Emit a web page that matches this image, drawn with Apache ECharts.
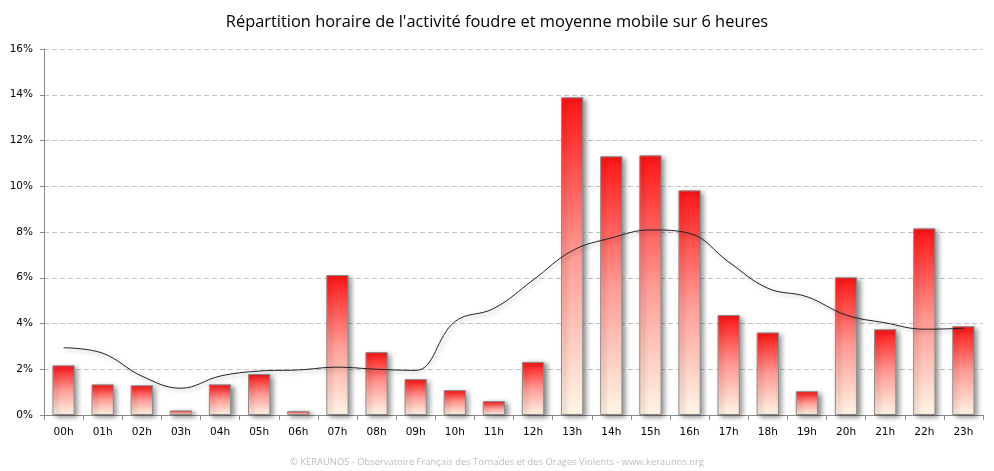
<!DOCTYPE html>
<html>
<head>
<meta charset="utf-8">
<script src="https://cdn.jsdelivr.net/npm/echarts@6/dist/echarts.min.js"></script>
<style>
html,body{margin:0;padding:0;background:#fff;}
#chart{width:994px;height:471px;}
</style>
</head>
<body>
<div id="chart"></div>
<script>
var categories = ['00h','01h','02h','03h','04h','05h','06h','07h','08h','09h','10h','11h','12h','13h','14h','15h','16h','17h','18h','19h','20h','21h','22h','23h'];
var activityValues = [2.17, 1.34, 1.30, 0.20, 1.34, 1.79, 0.17, 6.12, 2.75, 1.57, 1.09, 0.61, 2.32, 13.89, 11.31, 11.35, 9.82, 4.37, 3.61, 1.04, 6.02, 3.75, 8.16, 3.88];
var movingAverage = [2.94, 2.70, 1.70, 1.17, 1.70, 1.92, 1.97, 2.09, 2.00, 1.95, 4.08, 4.66, 5.90, 7.18, 7.74, 8.09, 7.94, 6.69, 5.54, 5.17, 4.37, 4.03, 3.75, 3.79];
var yTicks = [0, 2, 4, 6, 8, 10, 12, 14, 16];
var titleText = "Répartition horaire de l'activité foudre et moyenne mobile sur 6 heures";
var footerText = "© KERAUNOS - Observatoire Français des Tornades et des Orages Violents - www.keraunos.org";

var chart = echarts.init(document.getElementById('chart'), null, {renderer: 'canvas'});
chart.setOption({
  animation: false,
  backgroundColor: '#ffffff',
  title: [{
    text: titleText,
    left: 'center',
    top: 9,
    textStyle: {fontFamily: 'Open Sans', fontSize: 16.4, fontWeight: 'normal', color: '#000'}
  }, {
    text: footerText,
    left: 'center',
    top: 453,
    textStyle: {fontFamily: 'Open Sans', fontSize: 9.4, fontWeight: 'normal', color: '#bdbdbd'}
  }],
  grid: {left: 44, right: 11, top: 49, bottom: 56, containLabel: false},
  xAxis: {
    type: 'category',
    data: categories,
    boundaryGap: true,
    axisLine: {show: true, lineStyle: {color: '#8a8a8a', width: 1}},
    axisTick: {show: true, length: 5, lineStyle: {color: '#8a8a8a'}},
    axisLabel: {fontFamily: 'DejaVu Sans', fontSize: 10.5, color: '#000', margin: 12}
  },
  yAxis: {
    type: 'value',
    min: yTicks[0],
    max: yTicks[yTicks.length - 1],
    interval: 2,
    axisLine: {show: true, lineStyle: {color: '#8a8a8a', width: 1}},
    axisTick: {show: true, length: 4, lineStyle: {color: '#8a8a8a'}},
    axisLabel: {fontFamily: 'DejaVu Sans', fontSize: 10.5, color: '#000', margin: 11, formatter: '{value}%'},
    splitLine: {show: true, lineStyle: {color: '#c4c4c4', type: [5, 3], width: 1}}
  },
  series: [{
    type: 'bar',
    data: activityValues,
    barWidth: '57%',
    itemStyle: {
      color: new echarts.graphic.LinearGradient(0, 0, 0, 1, [
        {offset: 0, color: '#ff1414'},
        {offset: 0.5, color: '#ff9a94'},
        {offset: 1, color: '#fff6e6'}
      ]),
      borderColor: '#8c8c8c',
      borderWidth: 1,
      shadowBlur: 5,
      shadowColor: 'rgba(0,0,0,0.45)',
      shadowOffsetX: 3,
      shadowOffsetY: 2
    },
    z: 2
  }, {
    type: 'line',
    data: movingAverage,
    smooth: 0.4,
    symbol: 'none',
    lineStyle: {
      color: '#222',
      width: 1,
      shadowBlur: 4,
      shadowColor: 'rgba(0,0,0,0.35)',
      shadowOffsetX: 2,
      shadowOffsetY: 2
    },
    z: 3
  }]
});
</script>
</body>
</html>
